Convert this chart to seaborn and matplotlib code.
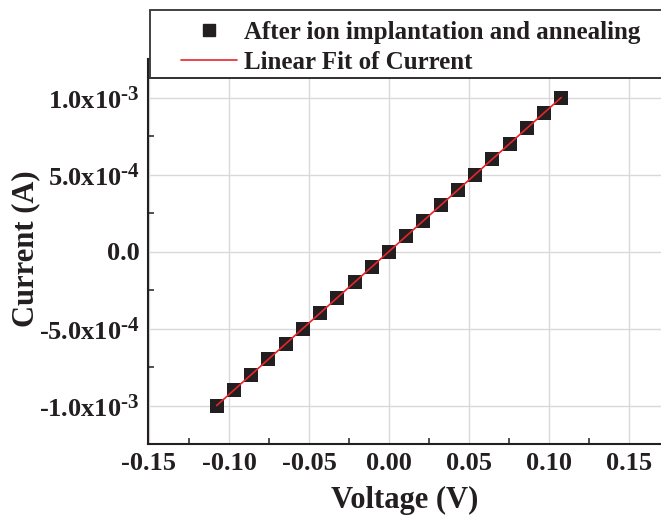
import numpy as np
import pandas as pd
import matplotlib
matplotlib.use("Agg")
import matplotlib.pyplot as plt
from matplotlib.patches import Rectangle
from matplotlib.lines import Line2D
from matplotlib.ticker import FixedLocator, MultipleLocator
import seaborn as sns

try:
    import matplotlib._mathtext as _mt
    _mt.SHRINK_FACTOR = 0.8
except Exception:
    pass

# ---- data ----
voltage = [-0.1077, -0.0969, -0.0861, -0.0754, -0.0646, -0.0538, -0.0431, -0.0323,
           -0.0215, -0.0108, 0.0, 0.0108, 0.0215, 0.0323, 0.0431, 0.0538, 0.0646,
           0.0754, 0.0861, 0.0969, 0.1077]
current = [-1.0e-3, -9.0e-4, -8.0e-4, -7.0e-4, -6.0e-4, -5.0e-4, -4.0e-4, -3.0e-4,
           -2.0e-4, -1.0e-4, 0.0, 1.0e-4, 2.0e-4, 3.0e-4, 4.0e-4, 5.0e-4, 6.0e-4,
           7.0e-4, 8.0e-4, 9.0e-4, 1.0e-3]
x_ticks = [-0.15, -0.10, -0.05, 0.00, 0.05, 0.10, 0.15]
x_tick_labels = ["-0.15", "-0.10", "-0.05", "0.00", "0.05", "0.10", "0.15"]
y_ticks = [-1.0e-3, -5.0e-4, 0.0, 5.0e-4, 1.0e-3]
y_tick_labels = ["-1.0x10$^{\u20103}$", "-5.0x10$^{\u20104}$", "0.0",
                 "5.0x10$^{\u20104}$", "1.0x10$^{\u20103}$"]
series_label = "After ion implantation and annealing"
fit_label = "Linear Fit of Current"

df = pd.DataFrame({"Voltage": voltage, "Current": current})
slope, intercept = np.polyfit(df["Current"], df["Voltage"], 1)
fit_df = pd.DataFrame({"Current": [current[0], current[-1]]})
fit_df["Voltage"] = slope * fit_df["Current"] + intercept

sns.set_style("white")
plt.rcParams["font.family"] = ["Liberation Serif", "DejaVu Serif"]
plt.rcParams["font.weight"] = "bold"
plt.rcParams["mathtext.fontset"] = "custom"
plt.rcParams["mathtext.rm"] = "Liberation Serif:bold"
plt.rcParams["mathtext.it"] = "Liberation Serif:bold"
plt.rcParams["mathtext.bf"] = "Liberation Serif:bold"
plt.rcParams["mathtext.default"] = "bf"

W, H = 661, 518
fig = plt.figure(figsize=(W / 100, H / 100), dpi=100)
left_px, right_px, top_px, bot_px = 148, 661, 59, 444
ax_w, ax_h = right_px - left_px, bot_px - top_px
ax = fig.add_axes([left_px / W, 1 - bot_px / H, ax_w / W, ax_h / H])

sns.lineplot(data=fit_df, x="Voltage", y="Current", ax=ax, color="#e8252a",
             linewidth=1.2, zorder=3, sort=False)
sns.scatterplot(data=df, x="Voltage", y="Current", ax=ax, marker="s", s=100,
                color="#231f20", edgecolor="#231f20", linewidth=0, zorder=2)

ax.set_xlim(-0.1506, 0.17)
ax.set_ylim(-1.25e-3, 1.25e-3)
ax.xaxis.set_major_locator(FixedLocator(x_ticks))
ax.set_xticklabels(x_tick_labels)
ax.xaxis.set_minor_locator(MultipleLocator(0.025))
ax.yaxis.set_major_locator(FixedLocator(y_ticks))
ax.set_yticklabels(y_tick_labels)
ax.yaxis.set_minor_locator(MultipleLocator(2.5e-4))

ax.grid(True, which="major", color="#d9d9d9", linewidth=1.0)
ax.set_axisbelow(True)
ax.tick_params(axis="both", which="major", direction="in", length=7, width=1.3,
               color="#231f20", labelsize=19, pad=6)
ax.tick_params(axis="both", which="minor", direction="in", length=4, width=1.1,
               color="#231f20", bottom=True, left=True)
for lbl in ax.get_xticklabels() + ax.get_yticklabels():
    lbl.set_fontweight("bold")
    lbl.set_color("#231f20")

for side in ["top", "right"]:
    ax.spines[side].set_visible(False)
for side in ["left", "bottom"]:
    ax.spines[side].set_color("#231f20")
    ax.spines[side].set_linewidth(1.5)

ax.set_xlabel("Voltage (V)", fontsize=22, fontweight="bold", color="#231f20")
ax.set_ylabel("Current (A)", fontsize=22, fontweight="bold", color="#231f20")
ax.xaxis.set_label_coords(0.5, -(500 - bot_px) / ax_h)
ax.xaxis.label.set_verticalalignment("center")
ax.yaxis.set_label_coords(-(left_px - 26) / ax_w, (bot_px - 249) / ax_h)
ax.yaxis.label.set_verticalalignment("center")

# legend box (extends beyond right edge)
rect = Rectangle((150 / W, 1 - 78 / H), 1.0, 68 / H, transform=fig.transFigure,
                 facecolor="white", edgecolor="#333333", linewidth=1.3, zorder=5)
fig.add_artist(rect)
fig.add_artist(Line2D([150 / W, 1.0], [1 - 78 / H, 1 - 78 / H], transform=fig.transFigure,
                      color="#333333", linewidth=1.3, zorder=5.5))
handles = [
    Line2D([], [], linestyle="none", marker="s", markersize=9, color="#231f20"),
    Line2D([], [], color="#e8252a", linewidth=1.2),
]
leg = fig.legend(handles, [series_label, fit_label], loc="upper left",
                 bbox_to_anchor=(181 / W, 1 - 21 / H), frameon=False, borderpad=0,
                 borderaxespad=0, handlelength=2.24, handletextpad=0.3, labelspacing=0.27,
                 prop={"family": "Liberation Serif", "weight": "bold", "size": 18})
leg.set_zorder(6)
for t in leg.get_texts():
    t.set_color("#231f20")

fig.savefig("out.png", dpi=100)
